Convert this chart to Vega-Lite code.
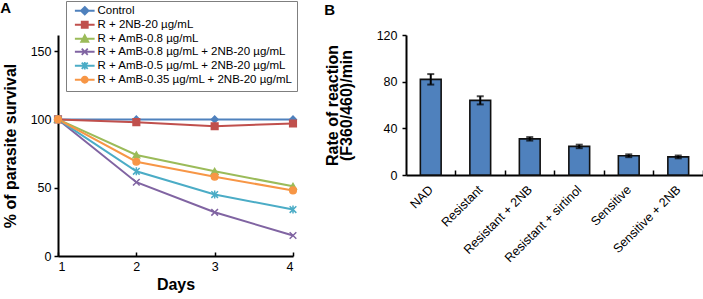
{
  "$schema": "https://vega.github.io/schema/vega-lite/v6.json",
  "background": "white",
  "padding": 0,
  "spacing": 24,
  "config": {
    "view": {"stroke": null},
    "font": "Liberation Sans",
    "axis": {
      "domainColor": "#000", "domainWidth": 2, "tickColor": "#000", "tickWidth": 1.5,
      "labelColor": "#000", "labelFont": "Liberation Sans", "labelFontSize": 12.5,
      "titleFont": "Liberation Sans", "titleFontSize": 16, "titleFontWeight": "bold", "titleColor": "#000",
      "grid": false
    },
    "title": {"font": "Liberation Sans", "fontWeight": "bold", "fontSize": 15, "color": "#000", "anchor": "start", "baseline": "alphabetic"}
  },
  "hconcat": [
    {
      "width": 235, "height": 221,
      "title": {"text": "A", "offset": 19, "dx": -2},
      "data": {"values": [
        {"series": "Control", "day": 1, "value": 100},
        {"series": "Control", "day": 2, "value": 100},
        {"series": "Control", "day": 3, "value": 100},
        {"series": "Control", "day": 4, "value": 100},
        {"series": "R + 2NB-20 µg/mL", "day": 1, "value": 100},
        {"series": "R + 2NB-20 µg/mL", "day": 2, "value": 98},
        {"series": "R + 2NB-20 µg/mL", "day": 3, "value": 95},
        {"series": "R + 2NB-20 µg/mL", "day": 4, "value": 97},
        {"series": "R + AmB-0.8 µg/mL", "day": 1, "value": 100},
        {"series": "R + AmB-0.8 µg/mL", "day": 2, "value": 74},
        {"series": "R + AmB-0.8 µg/mL", "day": 3, "value": 62},
        {"series": "R + AmB-0.8 µg/mL", "day": 4, "value": 51},
        {"series": "R + AmB-0.8 µg/mL + 2NB-20 µg/mL", "day": 1, "value": 100},
        {"series": "R + AmB-0.8 µg/mL + 2NB-20 µg/mL", "day": 2, "value": 54},
        {"series": "R + AmB-0.8 µg/mL + 2NB-20 µg/mL", "day": 3, "value": 32},
        {"series": "R + AmB-0.8 µg/mL + 2NB-20 µg/mL", "day": 4, "value": 15},
        {"series": "R + AmB-0.5 µg/mL + 2NB-20 µg/mL", "day": 1, "value": 100},
        {"series": "R + AmB-0.5 µg/mL + 2NB-20 µg/mL", "day": 2, "value": 62},
        {"series": "R + AmB-0.5 µg/mL + 2NB-20 µg/mL", "day": 3, "value": 45},
        {"series": "R + AmB-0.5 µg/mL + 2NB-20 µg/mL", "day": 4, "value": 34},
        {"series": "R + AmB-0.35 µg/mL + 2NB-20 µg/mL", "day": 1, "value": 100},
        {"series": "R + AmB-0.35 µg/mL + 2NB-20 µg/mL", "day": 2, "value": 69},
        {"series": "R + AmB-0.35 µg/mL + 2NB-20 µg/mL", "day": 3, "value": 58},
        {"series": "R + AmB-0.35 µg/mL + 2NB-20 µg/mL", "day": 4, "value": 48}
      ]},
      "encoding": {
        "x": {"field": "day", "type": "quantitative",
          "scale": {"domain": [1, 4], "nice": false, "zero": false},
          "axis": {"values": [1, 2, 3, 4], "format": "d", "tickSize": -4, "labelPadding": 8, "title": "Days", "titlePadding": 4}},
        "y": {"field": "value", "type": "quantitative",
          "scale": {"domain": [0, 161.8], "nice": false},
          "axis": {"values": [0, 50, 100, 150], "domain": true, "tickSize": 4, "labelPadding": 3, "title": "% of parasite survival", "titlePadding": 12}}
      },
      "layer": [
        {
          "mark": {"type": "line", "strokeWidth": 2},
          "encoding": {
            "color": {"field": "series", "type": "nominal",
              "scale": {
                "domain": ["Control", "R + 2NB-20 µg/mL", "R + AmB-0.8 µg/mL", "R + AmB-0.8 µg/mL + 2NB-20 µg/mL", "R + AmB-0.5 µg/mL + 2NB-20 µg/mL", "R + AmB-0.35 µg/mL + 2NB-20 µg/mL"],
                "range": ["#4F81BD", "#C0504D", "#9BBB59", "#8064A2", "#4BACC6", "#F79646"]},
              "legend": {
                "orient": "none", "legendX": 8, "legendY": -34, "title": null,
                "labelFont": "Liberation Sans", "labelFontSize": 11.5, "labelColor": "#000", "labelLimit": 400,
                "strokeColor": "#7f7f7f", "fillColor": "white", "padding": 4, "rowPadding": -1,
                "symbolSize": 30, "symbolOffset": 9, "labelOffset": 7, "symbolStrokeWidth": 1.8, "symbolOpacity": 1
              }}
          }
        },
        {
          "transform": [{"filter": "false"}],
          "mark": {"type": "point", "filled": true, "strokeWidth": 1.8, "opacity": 1},
          "encoding": {
            "color": {"field": "series", "type": "nominal"},
            "shape": {"field": "series", "type": "nominal", "legend": null,
              "scale": {
                "domain": ["Control", "R + 2NB-20 µg/mL", "R + AmB-0.8 µg/mL", "R + AmB-0.8 µg/mL + 2NB-20 µg/mL", "R + AmB-0.5 µg/mL + 2NB-20 µg/mL", "R + AmB-0.35 µg/mL + 2NB-20 µg/mL"],
                "range": ["M-3.6,0H3.6M0,-1.4L1.4,0L0,1.4L-1.4,0Z", "M-3.6,0H3.6M-1.1,-1.1H1.1V1.1H-1.1Z", "M-3.6,0H3.6M0,-1.3L1.3,1.1L-1.3,1.1Z", "M-3.6,0H3.6M-1.1,-1.1L1.1,1.1M-1.1,1.1L1.1,-1.1", "M-3.6,0H3.6M-1.1,-1.1L1.1,1.1M-1.1,1.1L1.1,-1.1M0,-1.4V1.4", "M-3.6,0H3.6M1.1,0A1.1,1.1 0 1 1 -1.1,0A1.1,1.1 0 1 1 1.1,0Z"]}}
          }
        },
        {
          "mark": {"type": "point", "filled": true, "size": 44, "strokeWidth": 1.5, "opacity": 1},
          "encoding": {
            "color": {"field": "series", "type": "nominal", "legend": null},
            "stroke": {"field": "series", "type": "nominal", "legend": null,
              "scale": {
                "domain": ["Control", "R + 2NB-20 µg/mL", "R + AmB-0.8 µg/mL", "R + AmB-0.8 µg/mL + 2NB-20 µg/mL", "R + AmB-0.5 µg/mL + 2NB-20 µg/mL", "R + AmB-0.35 µg/mL + 2NB-20 µg/mL"],
                "range": ["#4F81BD", "#C0504D", "#9BBB59", "#8064A2", "#4BACC6", "#F79646"]}},
            "shape": {
              "condition": [
                {"test": "datum.series === 'Control'", "value": "diamond"},
                {"test": "datum.series === 'R + 2NB-20 µg/mL'", "value": "square"},
                {"test": "datum.series === 'R + AmB-0.8 µg/mL'", "value": "triangle-up"},
                {"test": "datum.series === 'R + AmB-0.8 µg/mL + 2NB-20 µg/mL'", "value": "M-1,-1L1,1M-1,1L1,-1"},
                {"test": "datum.series === 'R + AmB-0.5 µg/mL + 2NB-20 µg/mL'", "value": "M-1,-1L1,1M-1,1L1,-1M0,-1.2V1.2"}
              ],
              "value": "circle"
            }
          }
        }
      ]
    },
    {
      "width": 297, "height": 140,
      "title": {"text": "B", "offset": 11},
      "data": {"values": [
        {"group": "NAD", "rate": 82, "lo": 77.5, "hi": 86.5},
        {"group": "Resistant", "rate": 64, "lo": 60.5, "hi": 67.5},
        {"group": "Resistant + 2NB", "rate": 31, "lo": 29.5, "hi": 32.5},
        {"group": "Resistant + sirtinol", "rate": 24.5, "lo": 23, "hi": 26},
        {"group": "Sensitive", "rate": 16.5, "lo": 15.3, "hi": 17.7},
        {"group": "Sensitive + 2NB", "rate": 15.5, "lo": 14.3, "hi": 16.7}
      ]},
      "layer": [
        {
          "mark": {"type": "bar", "fill": "#4F81BD", "stroke": "#111", "strokeWidth": 1.6, "width": {"band": 0.42}},
          "encoding": {
            "x": {"field": "group", "type": "nominal", "sort": null,
              "scale": {"paddingInner": 0, "paddingOuter": 0},
              "axis": {"title": null, "labelAngle": -45, "bandPosition": 1, "labelOffset": -4, "tickSize": -5, "labelPadding": 13}},
            "y": {"field": "rate", "type": "quantitative",
              "scale": {"domain": [0, 120], "nice": false},
              "axis": {"values": [0, 40, 80, 120], "tickSize": 4, "labelPadding": 5, "title": ["Rate of reaction", "(F360/460)/min"], "titleLineHeight": 14, "titlePadding": 22}}
          }
        },
        {
          "mark": {"type": "errorbar", "color": "#000", "thickness": 2, "ticks": {"size": 7, "thickness": 2}},
          "encoding": {
            "x": {"field": "group", "type": "nominal", "sort": null},
            "y": {"field": "lo", "type": "quantitative", "title": ["Rate of reaction", "(F360/460)/min"]},
            "y2": {"field": "hi"}
          }
        }
      ]
    }
  ]
}
